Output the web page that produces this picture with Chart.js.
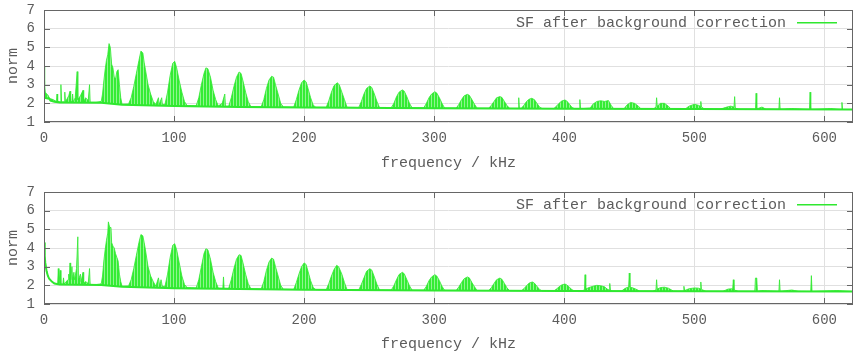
<!DOCTYPE html>
<html>
<head>
<meta charset="utf-8">
<script src="https://cdn.jsdelivr.net/npm/chart.js@4.4.1/dist/chart.umd.min.js"></script>
<style>
  html, body { margin: 0; padding: 0; background: #fff; }
  .panel { position: relative; width: 854px; }
  #panelTop { height: 172px; }
  #panelBottom { height: 181px; }
</style>
</head>
<body>
<div class="panel" id="panelTop"><canvas id="chartTop"></canvas></div>
<div class="panel" id="panelBottom"><canvas id="chartBottom"></canvas></div>
<script>
// upper spectrum: envelope of the SF signal (kHz / norm)
var freqTop = [
    0, 0.5, 1, 2, 3, 4, 5, 7, 9.5, 10, 10.5, 12.5, 13, 13.5,
    15.5, 16, 16.5, 19, 20, 20.5, 21.5, 22, 22.5, 24, 25.5, 26,
    28, 30, 30.5, 32, 34, 35, 35.5, 40, 44,
    45, 46, 47, 48, 49, 50, 51, 52, 53, 54, 55, 56, 57, 58, 59, 60,
    65, 67, 69, 71, 73, 74.5, 76, 77, 78, 80, 82, 84, 86,
    88, 88.5, 90.5, 91,
    93, 95, 97, 99, 100.5, 102, 104, 106, 108, 110,
    117, 119, 121, 123, 124.5, 126, 128, 130, 132, 134,
    137, 139, 139.5,
    142, 144, 146, 148, 150, 151.5, 153, 155, 157, 159,
    167, 169, 171, 173, 175, 176.5, 178, 180, 182, 184,
    192, 194, 196, 198, 200, 201.5, 203, 205, 207, 209,
    217, 219, 221, 223, 225.5, 227, 229, 231, 233,
    242, 244, 246, 248, 250.5, 252, 254, 256, 258,
    267, 269, 271, 273, 275.5, 277, 279, 281, 283,
    292, 294, 296, 298, 300.5, 302, 304, 306, 308,
    317, 319, 321, 323, 325.5, 327, 329, 331, 333,
    342, 344, 346, 348, 350.5, 352, 354, 356, 358,
    364.5, 365, 365.5,
    367, 369, 371, 373, 375, 377, 379, 381, 383,
    392, 394, 396, 398, 400.5, 402, 404, 406, 408,
    411.5, 412, 412.5,
    420, 422, 425, 428, 431, 434, 436, 438,
    446, 448, 451, 454, 457, 459,
    469, 470.5, 471, 471.5, 474, 477, 480, 482,
    493, 496, 500, 503, 504.5, 505, 505.5, 508,
    520, 525, 528, 530.5, 531, 531.5, 534, 547, 547.5, 548, 552, 555,
    565, 565.5, 566, 575, 588.5, 589, 589.5, 605, 613, 613.5, 614, 622
];
var normTop = [
    4.0, 3.0, 2.6, 2.5, 2.45, 2.3, 2.25, 2.2, 2.1, 2.5, 2.1, 2.08, 3.0, 2.08,
    2.08, 2.6, 2.08, 2.4, 2.65, 2.08, 2.1, 2.5, 2.08, 2.3, 3.7, 2.2,
    2.4, 2.7, 2.08, 2.3, 2.15, 3.0, 2.06, 2.06, 2.1,
    2.5, 3.2, 3.8, 4.3, 4.6, 5.2, 5.0, 4.1, 3.9, 3.4, 3.3, 3.7, 3.8, 3.0, 2.3, 1.96,
    1.97, 2.3, 2.9, 3.6, 4.3, 4.8, 4.7, 4.2, 3.8, 3.0, 2.5, 2.1, 1.94,
    2.3, 1.93, 2.3, 1.93,
    1.94, 2.6, 3.5, 4.15, 4.25, 3.9, 3.2, 2.6, 2.1, 1.88,
    1.87, 2.3, 3.0, 3.6, 3.9, 3.85, 3.4, 2.7, 2.2, 1.86,
    2.0, 2.5, 1.85,
    1.85, 2.3, 2.9, 3.4, 3.68, 3.6, 3.2, 2.6, 2.1, 1.83,
    1.82, 2.2, 2.8, 3.25, 3.45, 3.4, 3.0, 2.5, 2.0, 1.81,
    1.8, 2.2, 2.7, 3.1, 3.25, 3.15, 2.8, 2.3, 1.9, 1.79,
    1.79, 2.15, 2.6, 2.95, 3.1, 3.0, 2.6, 2.2, 1.79,
    1.78, 2.1, 2.5, 2.8, 2.93, 2.85, 2.5, 2.1, 1.77,
    1.77, 2.0, 2.35, 2.6, 2.72, 2.65, 2.35, 2.0, 1.76,
    1.76, 2.0, 2.3, 2.5, 2.62, 2.55, 2.3, 2.0, 1.75,
    1.75, 1.95, 2.2, 2.4, 2.48, 2.43, 2.2, 1.95, 1.74,
    1.74, 1.9, 2.1, 2.3, 2.36, 2.32, 2.1, 1.88, 1.73,
    1.73, 2.3, 1.73,
    1.73, 1.9, 2.1, 2.22, 2.27, 2.2, 2.0, 1.8, 1.72,
    1.72, 1.85, 2.0, 2.12, 2.18, 2.12, 1.95, 1.78, 1.71,
    1.71, 2.2, 1.71,
    1.75, 1.95, 2.1, 2.14, 2.1, 2.15, 1.9, 1.71,
    1.71, 1.9, 2.05, 2.0, 1.85, 1.7,
    1.72, 1.8, 2.3, 1.85, 2.0, 2.0, 1.85, 1.7,
    1.7, 1.85, 1.95, 1.9, 1.85, 2.1, 1.8, 1.69,
    1.69, 1.8, 1.85, 1.8, 2.36, 1.75, 1.68, 1.68, 2.54, 1.7, 1.8, 1.69,
    1.68, 2.3, 1.68, 1.72, 1.67, 2.6, 1.67, 1.72, 1.67, 2.05, 1.67, 1.67
];
// upper spectrum: floor of the signal
var baseFreqTop = [0, 4, 5, 8, 12, 44, 60, 100, 150, 200, 300, 400, 500, 622];
var baseNormTop = [2.3, 2.25, 2.15, 2.08, 2.05, 2.03, 1.92, 1.86, 1.81, 1.78, 1.74, 1.71, 1.69, 1.67];

// lower spectrum
var freqBottom = [
    0, 0.5, 1, 2, 3, 4, 6, 8, 10.5, 11, 11.5, 12.5, 13,
    14.5, 15, 15.5, 17, 18.5, 19, 19.5, 20, 20.5, 21.5, 22, 23, 23.5, 25, 26, 26.5,
    28, 28.5, 30, 30.5, 32, 34, 35, 35.5, 40, 44,
    45, 46, 47, 48, 49, 49.5, 50.5, 51.5, 52, 53, 54, 55, 56, 57, 58, 59, 60,
    65, 67, 69, 71, 73, 74.5, 76, 77, 78, 80, 82, 84, 86,
    88, 89, 90, 91,
    93, 95, 97, 99, 100.5, 102, 104, 106, 108, 110,
    117, 119, 121, 123, 124.5, 126, 128, 130, 132, 134,
    137.5, 138, 138.5,
    142, 144, 146, 148, 150, 151.5, 153, 155, 157, 159,
    167, 169, 171, 173, 175, 176.5, 178, 180, 182, 184,
    192, 194, 196, 198, 200, 201.5, 203, 205, 207, 209,
    217, 219, 221, 223, 225, 226.5, 229, 231, 233,
    242, 244, 246, 248, 250.5, 252, 254, 256, 258,
    267, 269, 271, 273, 275.5, 277, 279, 281, 283,
    292, 294, 296, 298, 300.5, 302, 304, 306, 308,
    317, 319, 321, 323, 325.5, 327, 329, 331, 333,
    342, 344, 346, 348, 350.5, 352, 354, 356, 358,
    367, 369, 371, 373, 375.5, 377, 379, 381, 383,
    392, 394, 396, 398, 400.5, 402, 404, 406, 408,
    413, 415.5, 416, 416.5, 419, 422, 425, 428, 431, 433, 434.5, 435, 435.5, 437,
    444, 446, 448, 449.5, 450, 450.5, 452, 455, 458,
    468, 470.5, 471, 471.5, 474, 477, 480, 484,
    491.5, 492, 492.5, 496, 500, 503, 504.5, 505, 505.5, 509,
    522, 526, 529.5, 530, 530.5, 534, 546.5, 547, 548, 548.5, 552,
    565, 565.5, 566, 575, 580, 589.5, 590, 590.5, 600, 610, 622
];
var normBottom = [
    4.3, 3.6, 3.2, 2.75, 2.5, 2.35, 2.2, 2.12, 2.08, 2.9, 2.1, 2.8, 2.08,
    2.07, 2.4, 2.07, 2.2, 2.3, 2.6, 2.3, 3.2, 2.3, 3.0, 2.3, 2.7, 2.3, 2.9, 4.6, 2.3,
    2.6, 2.2, 2.7, 2.1, 2.2, 2.1, 2.9, 2.05, 2.04, 2.08,
    2.5, 3.3, 3.9, 4.4, 4.8, 5.4, 5.1, 5.1, 4.3, 4.1, 4.0, 3.7, 3.5, 3.3, 2.6, 2.2, 1.96,
    1.97, 2.3, 2.9, 3.6, 4.3, 4.72, 4.65, 4.3, 3.9, 3.0, 2.5, 2.2, 1.95,
    2.4, 1.95, 2.3, 1.94,
    1.94, 2.6, 3.5, 4.15, 4.23, 3.9, 3.2, 2.5, 2.05, 1.88,
    1.86, 2.3, 3.0, 3.7, 3.96, 3.9, 3.4, 2.7, 2.2, 1.85,
    1.84, 2.45, 1.84,
    1.84, 2.3, 2.9, 3.4, 3.64, 3.6, 3.2, 2.6, 2.1, 1.82,
    1.81, 2.2, 2.8, 3.25, 3.46, 3.4, 3.0, 2.5, 2.0, 1.79,
    1.78, 2.15, 2.6, 3.0, 3.2, 3.12, 2.75, 2.25, 1.88, 1.77,
    1.77, 2.1, 2.5, 2.85, 3.07, 3.0, 2.6, 2.15, 1.77,
    1.76, 2.05, 2.4, 2.75, 2.89, 2.82, 2.45, 2.05, 1.75,
    1.75, 1.98, 2.3, 2.58, 2.7, 2.62, 2.3, 1.98, 1.74,
    1.74, 1.95, 2.25, 2.45, 2.57, 2.5, 2.25, 1.95, 1.73,
    1.73, 1.92, 2.15, 2.35, 2.45, 2.4, 2.15, 1.92, 1.72,
    1.72, 1.88, 2.1, 2.3, 2.39, 2.33, 2.1, 1.86, 1.71,
    1.71, 1.82, 1.98, 2.12, 2.18, 2.12, 1.95, 1.78, 1.7,
    1.7, 1.8, 1.92, 2.02, 2.07, 2.02, 1.9, 1.76, 1.7,
    1.7, 1.75, 2.57, 1.8, 1.88, 1.95, 2.0, 1.98, 1.92, 1.8, 1.75, 2.1, 1.72, 1.69,
    1.69, 1.8, 1.88, 1.9, 2.66, 1.9, 1.88, 1.8, 1.69,
    1.69, 1.75, 2.3, 1.8, 1.88, 1.9, 1.85, 1.69,
    1.69, 1.95, 1.72, 1.82, 1.86, 1.85, 1.82, 2.18, 1.78, 1.68,
    1.68, 1.8, 1.82, 2.3, 1.75, 1.68, 1.68, 2.39, 2.39, 1.68, 1.72,
    1.68, 2.3, 1.68, 1.75, 1.68, 1.67, 2.52, 1.67, 1.7, 1.72, 1.67
];
var baseFreqBottom = [0, 0.5, 1, 2, 3, 4, 6, 8, 12, 44, 60, 100, 150, 200, 300, 400, 500, 622];
var baseNormBottom = [4.3, 3.6, 3.2, 2.75, 2.5, 2.35, 2.2, 2.1, 2.05, 2.02, 1.92, 1.85, 1.8, 1.76, 1.72, 1.69, 1.68, 1.67];

var seriesLabel = 'SF after background correction';
var xTitle = 'frequency / kHz';
var yTitle = 'norm';

var monoFont = '"Liberation Mono", "DejaVu Sans Mono", monospace';
var textColor = '#5c5c5c';
var frameColor = '#666666';
var sfGreen = '#2fe82f';

function toPoints(xs, ys) {
    return xs.map(function (x, i) { return { x: x, y: ys[i] }; });
}

// the spectrum is made of many thin vertical lines, so fill with a striped pattern
function stripeFill() {
    var c = document.createElement('canvas');
    c.width = 3;
    c.height = 4;
    var g = c.getContext('2d');
    g.fillStyle = '#34ec34';
    g.fillRect(0, 0, 3, 4);
    g.fillStyle = '#8ff58f';
    g.fillRect(2, 0, 1, 4);
    return g.createPattern(c, 'repeat');
}

// gnuplot style frame: box border, inward ticks on all four sides, key top right
var gnuplotFrame = {
    id: 'gnuplotFrame',
    afterDraw: function (chart) {
        var ctx = chart.ctx, a = chart.chartArea;
        var xs = chart.scales.x, ys = chart.scales.y;
        ctx.save();
        ctx.strokeStyle = frameColor;
        ctx.lineWidth = 1;
        ctx.beginPath();
        xs.ticks.forEach(function (t) {
            var px = Math.round(xs.getPixelForValue(t.value)) + 0.5;
            ctx.moveTo(px, a.bottom); ctx.lineTo(px, a.bottom - 6);
            ctx.moveTo(px, a.top); ctx.lineTo(px, a.top + 6);
        });
        ys.ticks.forEach(function (t) {
            var py = Math.round(ys.getPixelForValue(t.value)) + 0.5;
            ctx.moveTo(a.left, py); ctx.lineTo(a.left + 6, py);
            ctx.moveTo(a.right, py); ctx.lineTo(a.right - 6, py);
        });
        ctx.stroke();
        ctx.strokeRect(Math.round(a.left) + 0.5, Math.round(a.top) + 0.5,
            Math.round(a.right - a.left) - 1, Math.round(a.bottom - a.top) - 1);

        var ds = chart.data.datasets[1];
        var ky = Math.round(a.top + 13);
        ctx.font = '15px ' + monoFont;
        ctx.fillStyle = textColor;
        ctx.textAlign = 'right';
        ctx.textBaseline = 'middle';
        ctx.fillText(ds.label, a.right - 67, ky);
        ctx.fillStyle = sfGreen;
        ctx.fillRect(a.right - 56, ky - 1, 40, 1.5);
        ctx.restore();
    }
};

function drawSpectrum(canvasId, freq, norm, baseFreq, baseNorm, padTop, axisHeight) {
    return new Chart(document.getElementById(canvasId), {
        type: 'line',
        data: {
            datasets: [{
                label: 'floor',
                data: toPoints(baseFreq, baseNorm),
                borderColor: sfGreen,
                borderWidth: 2,
                pointRadius: 0,
                fill: false
            }, {
                label: seriesLabel,
                data: toPoints(freq, norm),
                borderColor: 'rgba(47, 232, 47, 0.8)',
                backgroundColor: stripeFill(),
                borderWidth: 1,
                pointRadius: 0,
                fill: '-1'
            }]
        },
        options: {
            responsive: true,
            maintainAspectRatio: false,
            devicePixelRatio: 1,
            animation: false,
            layout: { padding: { top: padTop, right: 1, left: 0, bottom: 0 } },
            plugins: {
                legend: { display: false },
                tooltip: { enabled: false }
            },
            scales: {
                x: {
                    type: 'linear',
                    min: 0,
                    max: 622,
                    afterFit: function (scale) {
                        scale.height = axisHeight;
                        scale.paddingLeft = 0;
                        scale.paddingRight = 0;
                    },
                    border: { display: false },
                    grid: { color: '#e0e0e0', drawTicks: false },
                    ticks: {
                        stepSize: 100,
                        includeBounds: false,
                        autoSkip: false,
                        padding: 8,
                        color: textColor,
                        font: { family: monoFont, size: 14 }
                    },
                    title: {
                        display: true,
                        text: xTitle,
                        color: textColor,
                        padding: { top: 2, bottom: 0 },
                        font: { family: monoFont, size: 15 }
                    }
                },
                y: {
                    min: 1,
                    max: 7,
                    afterFit: function (scale) {
                        scale.width = 44;
                        scale.paddingTop = 0;
                        scale.paddingBottom = 0;
                    },
                    border: { display: false },
                    grid: { color: '#e0e0e0', drawTicks: false },
                    ticks: {
                        stepSize: 1,
                        autoSkip: false,
                        padding: 9,
                        color: textColor,
                        font: { family: monoFont, size: 14 }
                    },
                    title: {
                        display: true,
                        text: yTitle,
                        color: textColor,
                        padding: { top: 4, bottom: 0 },
                        font: { family: monoFont, size: 15 }
                    }
                }
            }
        },
        plugins: [gnuplotFrame]
    });
}

drawSpectrum('chartTop', freqTop, normTop, baseFreqTop, baseNormTop, 10, 50);
drawSpectrum('chartBottom', freqBottom, normBottom, baseFreqBottom, baseNormBottom, 20, 49);
</script>
</body>
</html>
